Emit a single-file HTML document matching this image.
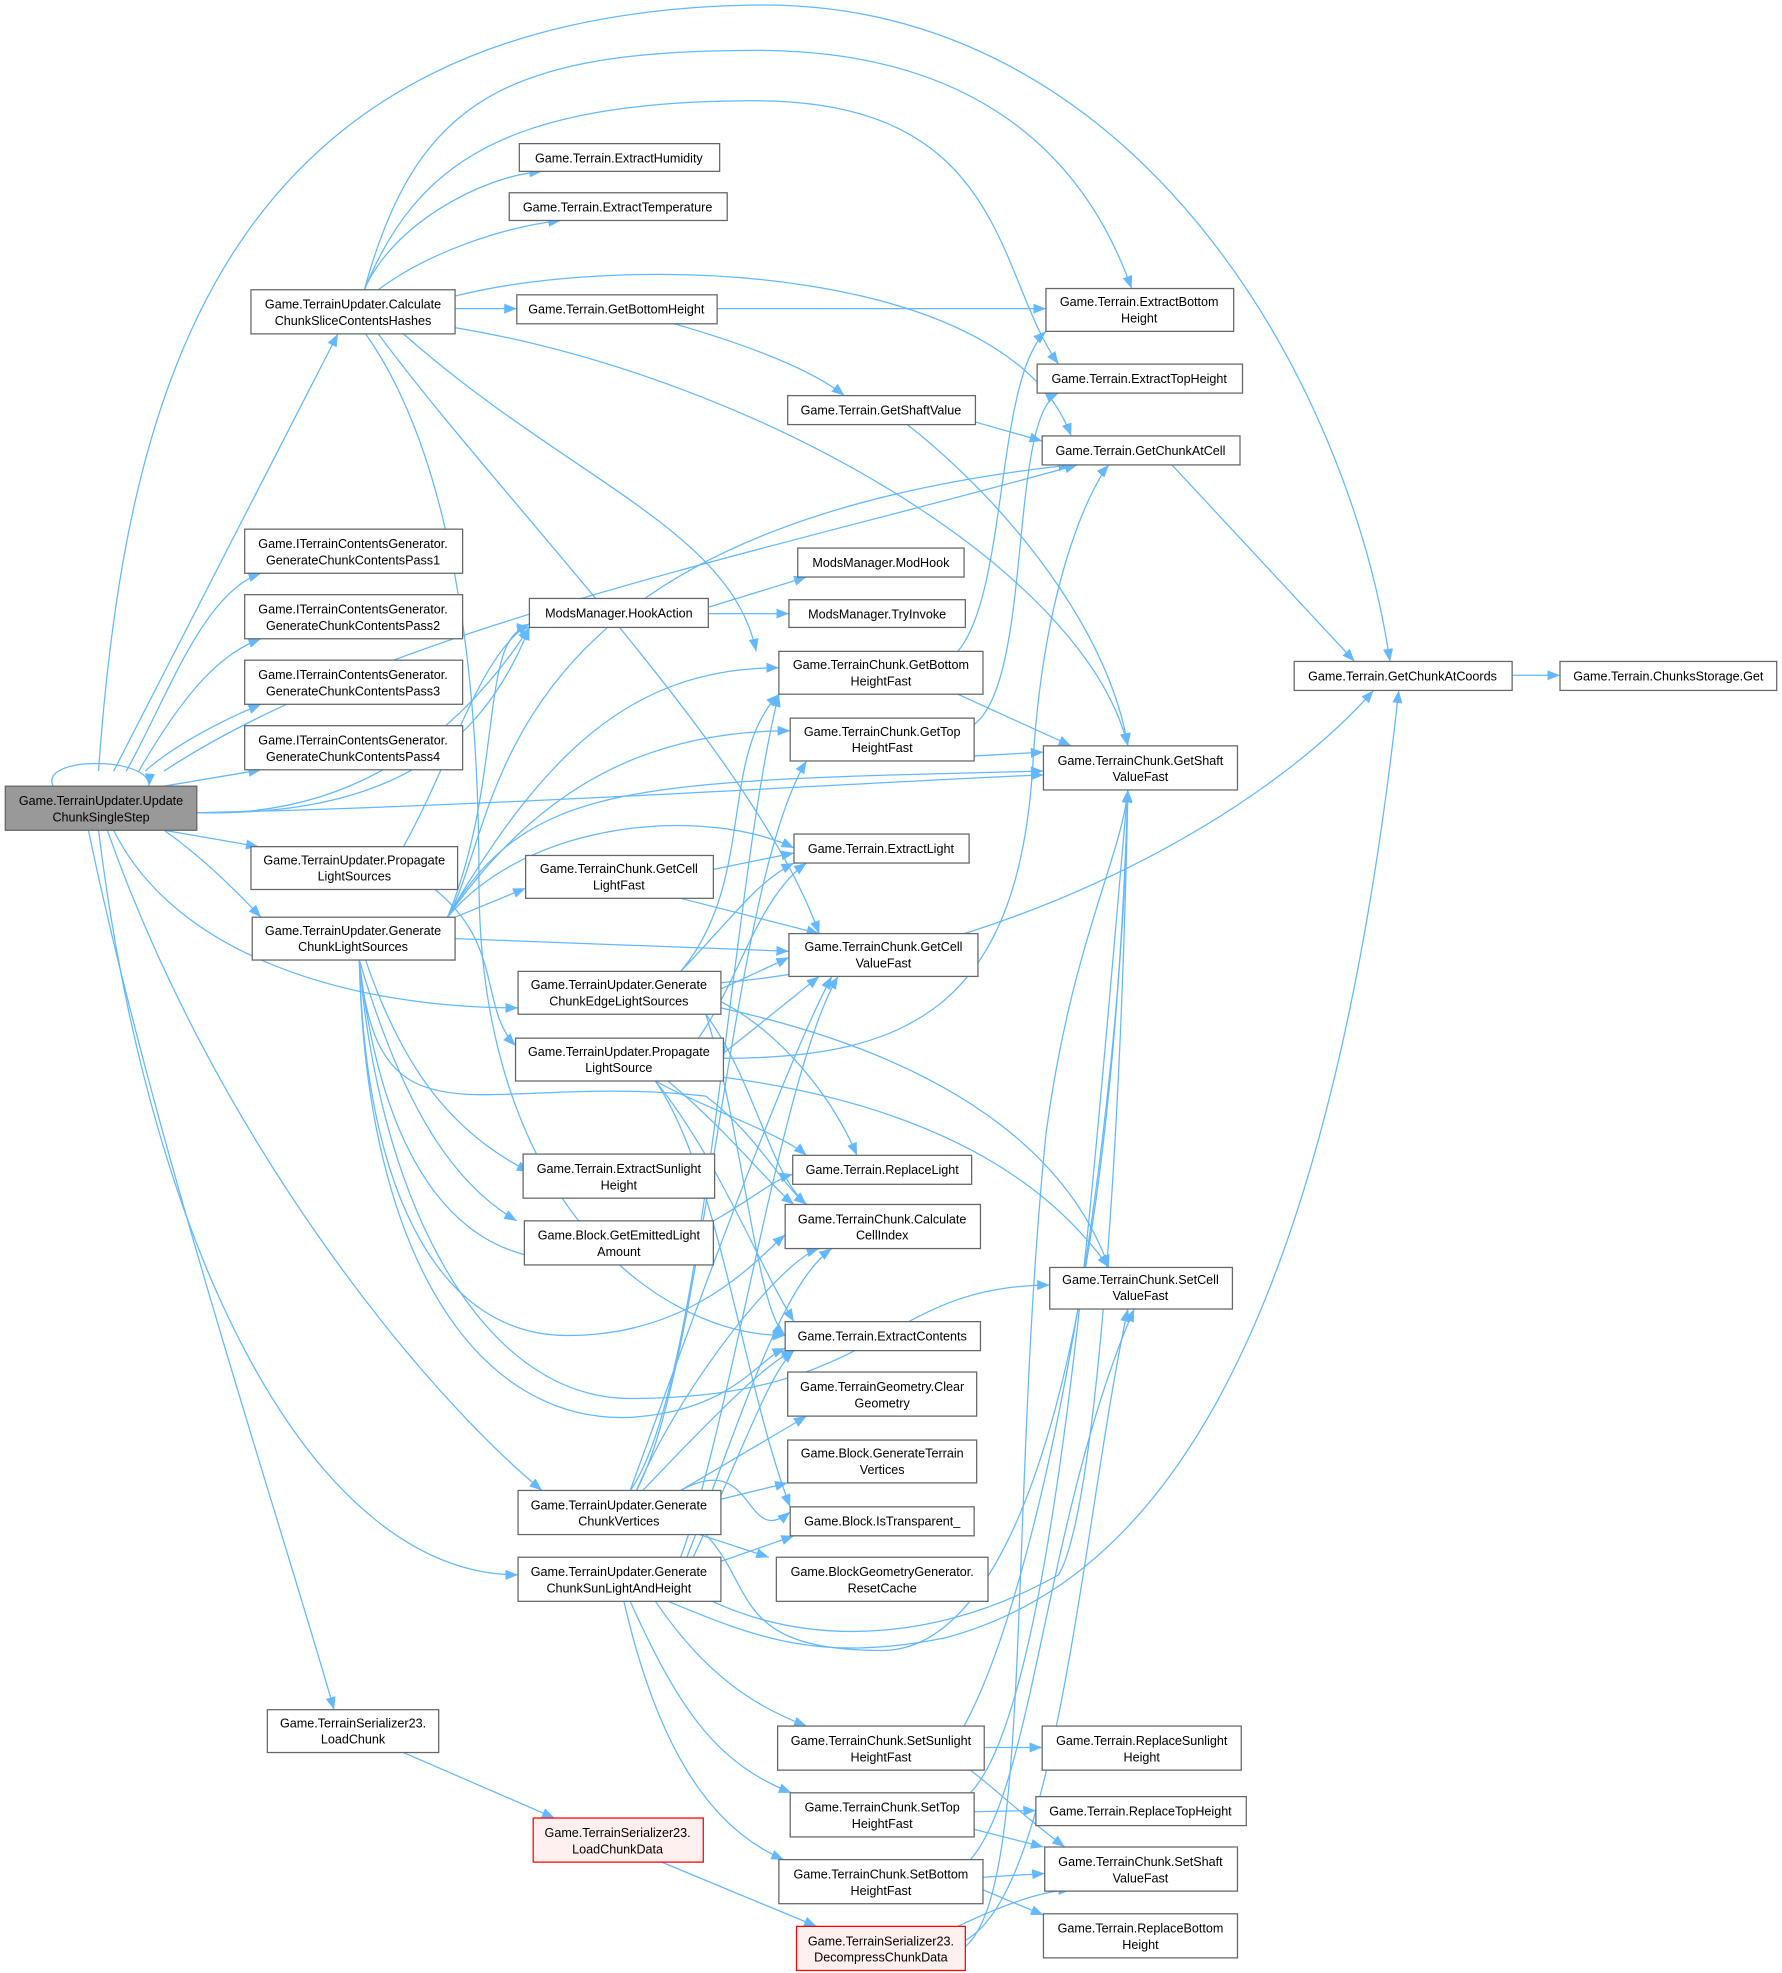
<!DOCTYPE html>
<html><head><meta charset="utf-8"><style>
html,body{margin:0;padding:0;background:#fff;}
svg{display:block;}
text{font-family:"Liberation Sans",sans-serif;font-size:10px;fill:#000;text-anchor:middle;}
.n{fill:#fff;stroke:#666;stroke-width:1;}
.g{fill:#999;stroke:#666;stroke-width:1;}
.r{fill:#fff0f0;stroke:#f00;stroke-width:1;}
.e path{fill:none;stroke:#63b8ff;stroke-width:1;marker-end:url(#a);}
</style></head><body>
<svg width="1782" height="1973" viewBox="0 0 1414 1566" xmlns="http://www.w3.org/2000/svg">
<defs><marker id="a" markerUnits="userSpaceOnUse" markerWidth="12" markerHeight="10" refX="10" refY="4" orient="auto"><path d="M0,0 L10,4 L0,8 Z" fill="#63b8ff"/></marker></defs>
<g class="e">
<path d="M42,624 C30,600 120,600 118,624"/>
<path d="M90,612 L268,265"/>
<path d="M100,612 C130,560 160,470 207,455"/>
<path d="M110,612 C140,560 170,520 207,507"/>
<path d="M115,612 C140,590 180,570 207,559"/>
<path d="M130,624 L207,611"/>
<path d="M78,612 C100,300 180,10 600,4 C900,0 1070,300 1103,525"/>
<path d="M156,645 C300,648 380,600 420,498"/>
<path d="M156,645 C300,650 380,560 420,498"/>
<path d="M156,645 C400,640 700,620 828,615"/>
<path d="M130,612 C300,500 600,440 855,369"/>
<path d="M130,659 L205,672"/>
<path d="M130,659 C160,680 190,710 207,728"/>
<path d="M90,659 C140,760 280,800 411,800"/>
<path d="M85,659 C170,900 330,1100 430,1183"/>
<path d="M78,659 C120,1000 250,1250 411,1250"/>
<path d="M70,659 C120,900 220,1200 265,1357"/>
<path d="M289,230 C310,180 380,140 430,136"/>
<path d="M300,230 C340,200 400,180 445,175"/>
<path d="M361,245 L410,245"/>
<path d="M289,230 C330,80 400,40 600,40 C800,40 870,150 898,229"/>
<path d="M289,230 C330,130 400,80 600,80 C800,80 790,220 840,289"/>
<path d="M361,235 C500,200 800,210 850,346"/>
<path d="M361,260 C600,300 860,450 895,592"/>
<path d="M320,265 C450,380 580,420 600,517"/>
<path d="M300,265 C400,400 600,600 650,741"/>
<path d="M290,265 C350,350 380,500 380,700 C380,950 520,1060 623,1060"/>
<path d="M569,245 L830,245"/>
<path d="M535,257 C580,270 640,290 670,314"/>
<path d="M774,335 L827,350"/>
<path d="M720,337 C800,400 880,500 895,592"/>
<path d="M930,369 L1075,525"/>
<path d="M1200,536 L1238,536"/>
<path d="M562,482 L640,458"/>
<path d="M562,487 L626,487"/>
<path d="M760,517 C800,470 790,300 830,263"/>
<path d="M760,551 L850,592"/>
<path d="M773,575 C820,540 800,330 840,312"/>
<path d="M773,600 L828,597"/>
<path d="M320,672 C360,600 380,520 420,495"/>
<path d="M345,706 C400,750 380,800 409,830"/>
<path d="M355,728 C400,650 380,420 850,369"/>
<path d="M355,728 C400,620 380,500 420,498"/>
<path d="M355,728 C430,600 500,530 618,530"/>
<path d="M355,728 C430,620 520,580 627,580"/>
<path d="M355,728 C420,650 560,640 630,673"/>
<path d="M361,728 L417,705"/>
<path d="M361,745 L626,755"/>
<path d="M355,728 C420,620 500,620 828,612"/>
<path d="M290,762 C320,850 360,900 420,930"/>
<path d="M285,762 C320,880 360,940 410,969"/>
<path d="M285,762 C300,900 350,1000 450,1000 C550,1000 600,940 629,932"/>
<path d="M285,762 C290,950 350,1060 450,1060 C550,1060 600,1000 623,980"/>
<path d="M285,762 C300,950 380,1110 500,1110 C700,1110 700,1020 833,1020"/>
<path d="M285,762 C290,1000 380,1130 500,1125 C580,1120 600,1080 623,1070"/>
<path d="M285,762 C300,920 380,850 560,870 C600,900 620,940 640,956"/>
<path d="M566,690 L630,677"/>
<path d="M540,713 L650,741"/>
<path d="M540,771 C580,730 600,700 630,685"/>
<path d="M572,785 L626,760"/>
<path d="M572,780 C800,760 1000,650 1090,548"/>
<path d="M572,795 C620,820 660,870 680,917"/>
<path d="M560,805 C600,860 610,930 640,956"/>
<path d="M560,805 C590,900 600,1040 623,1060"/>
<path d="M572,800 C800,850 860,950 880,1006"/>
<path d="M540,771 C600,700 570,600 618,551"/>
<path d="M574,840 C720,840 810,800 820,600 C830,450 870,380 880,369"/>
<path d="M574,836 L650,775"/>
<path d="M520,858 C560,880 620,900 640,917"/>
<path d="M530,858 C580,900 610,940 630,956"/>
<path d="M520,858 C570,920 600,1000 630,1049"/>
<path d="M574,855 C760,880 840,950 880,1006"/>
<path d="M520,858 C570,930 590,1100 627,1196"/>
<path d="M520,858 C580,820 590,720 640,685"/>
<path d="M500,1183 C530,1100 620,850 660,775"/>
<path d="M505,1183 C540,1100 620,1000 650,991"/>
<path d="M510,1183 C570,1120 610,1080 630,1072"/>
<path d="M540,1183 L640,1124"/>
<path d="M572,1190 L625,1177"/>
<path d="M555,1218 L610,1236"/>
<path d="M540,1183 C600,1150 590,1230 627,1200"/>
<path d="M500,1183 C560,1100 580,700 618,551"/>
<path d="M505,1183 C560,1080 580,700 640,604"/>
<path d="M560,1218 C600,1260 580,1310 700,1310 C800,1310 880,1100 895,627"/>
<path d="M540,1236 C580,1130 620,850 665,775"/>
<path d="M545,1236 C590,1120 620,1020 660,991"/>
<path d="M550,1236 C590,1150 610,1090 630,1072"/>
<path d="M570,1240 L630,1219"/>
<path d="M520,1271 C560,1330 600,1355 640,1370"/>
<path d="M500,1271 C540,1360 570,1400 628,1423"/>
<path d="M495,1271 C520,1380 560,1450 622,1476"/>
<path d="M530,1271 C600,1300 650,1320 750,1300 C900,1260 1050,1100 1110,548"/>
<path d="M565,1271 C650,1310 750,1300 840,1250 C870,1200 890,900 895,627"/>
<path d="M320,1391 L440,1443"/>
<path d="M525,1478 L648,1529"/>
<path d="M760,1529 C800,1510 830,1500 850,1500"/>
<path d="M766,1540 C840,1500 860,1200 895,1039"/>
<path d="M766,1545 C820,1500 800,1200 830,900 C850,750 890,680 895,627"/>
<path d="M781,1387 L827,1387"/>
<path d="M770,1405 C790,1420 810,1440 845,1466"/>
<path d="M765,1370 C830,1250 890,900 895,627"/>
<path d="M773,1438 L822,1437"/>
<path d="M773,1452 L828,1466"/>
<path d="M770,1423 C840,1350 870,900 895,627"/>
<path d="M780,1490 L829,1487"/>
<path d="M780,1500 L828,1520"/>
<path d="M770,1476 C820,1420 830,1200 900,1039"/>
</g>
<g>
<rect class="g" x="4" y="624" width="152" height="35"/><text x="80" y="639">Game.TerrainUpdater.Update</text><text x="80" y="652">ChunkSingleStep</text>
<rect class="n" x="199" y="230" width="162" height="35"/><text x="280" y="245">Game.TerrainUpdater.Calculate</text><text x="280" y="258">ChunkSliceContentsHashes</text>
<rect class="n" x="194" y="420" width="173" height="35"/><text x="280" y="435">Game.ITerrainContentsGenerator.</text><text x="280" y="448">GenerateChunkContentsPass1</text>
<rect class="n" x="194" y="472" width="173" height="35"/><text x="280" y="487">Game.ITerrainContentsGenerator.</text><text x="280" y="500">GenerateChunkContentsPass2</text>
<rect class="n" x="194" y="524" width="173" height="35"/><text x="280" y="539">Game.ITerrainContentsGenerator.</text><text x="280" y="552">GenerateChunkContentsPass3</text>
<rect class="n" x="194" y="576" width="173" height="35"/><text x="280" y="591">Game.ITerrainContentsGenerator.</text><text x="280" y="604">GenerateChunkContentsPass4</text>
<rect class="n" x="199" y="672" width="164" height="34"/><text x="281" y="686">Game.TerrainUpdater.Propagate</text><text x="281" y="699">LightSources</text>
<rect class="n" x="200" y="728" width="161" height="34"/><text x="280" y="742">Game.TerrainUpdater.Generate</text><text x="280" y="755">ChunkLightSources</text>
<rect class="n" x="412" y="114" width="159" height="22"/><text x="491" y="129">Game.Terrain.ExtractHumidity</text>
<rect class="n" x="404" y="153" width="173" height="22"/><text x="490" y="168">Game.Terrain.ExtractTemperature</text>
<rect class="n" x="410" y="234" width="159" height="23"/><text x="489" y="249">Game.Terrain.GetBottomHeight</text>
<rect class="n" x="420" y="475" width="142" height="23"/><text x="491" y="490">ModsManager.HookAction</text>
<rect class="n" x="633" y="435" width="132" height="23"/><text x="699" y="450">ModsManager.ModHook</text>
<rect class="n" x="626" y="476" width="140" height="22"/><text x="696" y="491">ModsManager.TryInvoke</text>
<rect class="n" x="618" y="517" width="162" height="34"/><text x="699" y="531">Game.TerrainChunk.GetBottom</text><text x="699" y="544">HeightFast</text>
<rect class="n" x="627" y="570" width="146" height="34"/><text x="700" y="584">Game.TerrainChunk.GetTop</text><text x="700" y="597">HeightFast</text>
<rect class="n" x="625" y="314" width="149" height="23"/><text x="699" y="329">Game.Terrain.GetShaftValue</text>
<rect class="n" x="830" y="229" width="149" height="34"/><text x="904" y="243">Game.Terrain.ExtractBottom</text><text x="904" y="256">Height</text>
<rect class="n" x="823" y="289" width="163" height="23"/><text x="904" y="304">Game.Terrain.ExtractTopHeight</text>
<rect class="n" x="827" y="346" width="157" height="23"/><text x="905" y="361">Game.Terrain.GetChunkAtCell</text>
<rect class="n" x="828" y="592" width="154" height="35"/><text x="905" y="607">Game.TerrainChunk.GetShaft</text><text x="905" y="620">ValueFast</text>
<rect class="n" x="1027" y="525" width="173" height="23"/><text x="1113" y="540">Game.Terrain.GetChunkAtCoords</text>
<rect class="n" x="1238" y="525" width="172" height="23"/><text x="1324" y="540">Game.Terrain.ChunksStorage.Get</text>
<rect class="n" x="417" y="679" width="149" height="34"/><text x="491" y="693">Game.TerrainChunk.GetCell</text><text x="491" y="706">LightFast</text>
<rect class="n" x="630" y="662" width="139" height="23"/><text x="699" y="677">Game.Terrain.ExtractLight</text>
<rect class="n" x="626" y="741" width="150" height="34"/><text x="701" y="755">Game.TerrainChunk.GetCell</text><text x="701" y="768">ValueFast</text>
<rect class="n" x="411" y="771" width="161" height="34"/><text x="491" y="785">Game.TerrainUpdater.Generate</text><text x="491" y="798">ChunkEdgeLightSources</text>
<rect class="n" x="409" y="824" width="165" height="34"/><text x="491" y="838">Game.TerrainUpdater.Propagate</text><text x="491" y="851">LightSource</text>
<rect class="n" x="415" y="916" width="152" height="35"/><text x="491" y="931">Game.Terrain.ExtractSunlight</text><text x="491" y="944">Height</text>
<rect class="n" x="416" y="969" width="150" height="35"/><text x="491" y="984">Game.Block.GetEmittedLight</text><text x="491" y="997">Amount</text>
<rect class="n" x="629" y="917" width="142" height="23"/><text x="700" y="932">Game.Terrain.ReplaceLight</text>
<rect class="n" x="623" y="956" width="155" height="35"/><text x="700" y="971">Game.TerrainChunk.Calculate</text><text x="700" y="984">CellIndex</text>
<rect class="n" x="833" y="1006" width="145" height="33"/><text x="905" y="1019">Game.TerrainChunk.SetCell</text><text x="905" y="1032">ValueFast</text>
<rect class="n" x="623" y="1049" width="155" height="23"/><text x="700" y="1064">Game.Terrain.ExtractContents</text>
<rect class="n" x="625" y="1089" width="150" height="35"/><text x="700" y="1104">Game.TerrainGeometry.Clear</text><text x="700" y="1117">Geometry</text>
<rect class="n" x="625" y="1143" width="150" height="34"/><text x="700" y="1157">Game.Block.GenerateTerrain</text><text x="700" y="1170">Vertices</text>
<rect class="n" x="627" y="1196" width="146" height="23"/><text x="700" y="1211">Game.Block.IsTransparent_</text>
<rect class="n" x="616" y="1236" width="168" height="35"/><text x="700" y="1251">Game.BlockGeometryGenerator.</text><text x="700" y="1264">ResetCache</text>
<rect class="n" x="411" y="1183" width="161" height="35"/><text x="491" y="1198">Game.TerrainUpdater.Generate</text><text x="491" y="1211">ChunkVertices</text>
<rect class="n" x="411" y="1236" width="161" height="35"/><text x="491" y="1251">Game.TerrainUpdater.Generate</text><text x="491" y="1264">ChunkSunLightAndHeight</text>
<rect class="n" x="212" y="1357" width="136" height="34"/><text x="280" y="1371">Game.TerrainSerializer23.</text><text x="280" y="1384">LoadChunk</text>
<rect class="r" x="423" y="1443" width="135" height="35"/><text x="490" y="1458">Game.TerrainSerializer23.</text><text x="490" y="1471">LoadChunkData</text>
<rect class="n" x="617" y="1370" width="164" height="35"/><text x="699" y="1385">Game.TerrainChunk.SetSunlight</text><text x="699" y="1398">HeightFast</text>
<rect class="n" x="627" y="1423" width="146" height="35"/><text x="700" y="1438">Game.TerrainChunk.SetTop</text><text x="700" y="1451">HeightFast</text>
<rect class="n" x="618" y="1476" width="162" height="35"/><text x="699" y="1491">Game.TerrainChunk.SetBottom</text><text x="699" y="1504">HeightFast</text>
<rect class="r" x="632" y="1529" width="134" height="35"/><text x="699" y="1544">Game.TerrainSerializer23.</text><text x="699" y="1557">DecompressChunkData</text>
<rect class="n" x="827" y="1370" width="158" height="35"/><text x="906" y="1385">Game.Terrain.ReplaceSunlight</text><text x="906" y="1398">Height</text>
<rect class="n" x="822" y="1426" width="167" height="23"/><text x="905" y="1441">Game.Terrain.ReplaceTopHeight</text>
<rect class="n" x="829" y="1466" width="153" height="35"/><text x="905" y="1481">Game.TerrainChunk.SetShaft</text><text x="905" y="1494">ValueFast</text>
<rect class="n" x="828" y="1519" width="154" height="35"/><text x="905" y="1534">Game.Terrain.ReplaceBottom</text><text x="905" y="1547">Height</text>
</g>
</svg>
</body></html>
